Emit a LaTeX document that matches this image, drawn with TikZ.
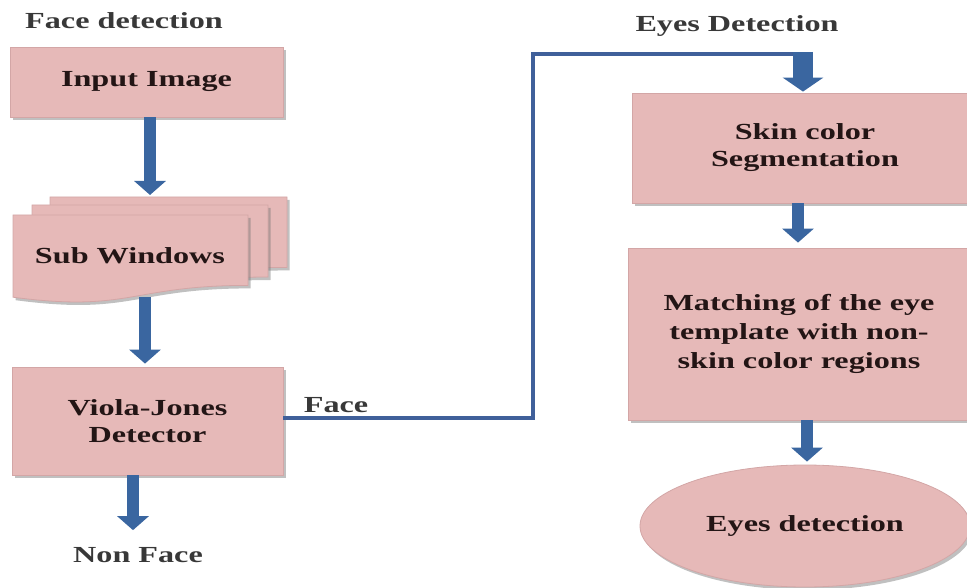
\documentclass[tikz,border=0pt]{standalone}
\usepackage{fontspec}
\setmainfont{Liberation Serif}[FakeStretch=1.4]
\usetikzlibrary{arrows.meta,shadows,shapes.geometric,calc}
\definecolor{boxfill}{HTML}{E6B9B8}
\definecolor{boxedge}{HTML}{D3A6A6}
\definecolor{arrowblue}{HTML}{3A66A0}
\definecolor{lineblue}{HTML}{40609A}
\definecolor{txt}{HTML}{231515}
\begin{document}
\begin{tikzpicture}[x=1pt,y=-1pt,
  font=\fontsize{23}{27}\selectfont\bfseries,
  shade/.style={drop shadow={shadow xshift=2.5pt,shadow yshift=-3pt,fill=black!55,opacity=0.45}},
  boxnode/.style={draw=boxedge,line width=0.8pt,fill=boxfill,text=txt,align=center,inner sep=0pt,shade},
  docshape/.style={draw=boxedge,line width=0.8pt,fill=boxfill,shade},
  title/.style={text=black!78,inner sep=0pt},
  bigarrow/.style={draw=arrowblue,line width=12pt,-{Triangle[width=31pt,length=14pt]}},
  widearrow/.style={draw=arrowblue,line width=20pt,-{Triangle[width=40pt,length=14pt]}},
  faceline/.style={draw=lineblue,line width=4pt}
]
\useasboundingbox (0,0) rectangle (967,588);
\clip (0,0) rectangle (967,588);

% titles
\node[title] (t1) at (124,21) {Face detection};
\node[title] (t2) at (737,26) {Eyes Detection};

% left column
\node[boxnode,minimum width=273pt,minimum height=70pt] (inp) at (146.5,82) {Input Image};

% stacked documents (Sub Windows)
\path[docshape] (50,197) -- (287,197) -- (287,267.4)
  .. controls (168.5,267.4) and (168.5,294.7) .. (50,279.2) -- cycle;
\path[docshape] (32,205) -- (268,205) -- (268,277)
  .. controls (150,277) and (150,304.7) .. (32,289) -- cycle;
\path[docshape] (13,215) -- (248,215) -- (248,285.4)
  .. controls (130.5,285.4) and (130.5,312.7) .. (13,297.2) -- cycle;
\node[text=txt,inner sep=0pt] (sub) at (130,256) {Sub Windows};
\coordinate (subtop) at (150,195);
\coordinate (subbot) at (145,297);

\node[boxnode,minimum width=271pt,minimum height=108pt] (vj) at (147.5,421) {Viola-Jones\\Detector};
\node[title] (nonface) at (138,555) {Non Face};
\node[title] (facelbl) at (336,405) {Face};

% right column
\node[boxnode,minimum width=346pt,minimum height=110pt] (skin) at (805,148) {Skin color\\Segmentation};
\node[boxnode,minimum width=342pt,minimum height=172pt,font=\fontsize{23}{29}\selectfont\bfseries] (match) at (799,334)
  {Matching of the eye\\template with non-\\skin color regions};
\node[boxnode,ellipse,minimum width=330pt,minimum height=122pt] (eyes) at (805,526) {Eyes detection};

% arrows
\draw[bigarrow] ($(inp.south)+(3.5,0)$) -- (subtop);
\draw[bigarrow] (subbot) -- ($(vj.north)+(-2.5,-3)$);
\draw[bigarrow] ($(vj.south)+(-14.5,0)$) -- ($(nonface.north)+(-5,-17)$);
\coordinate (c1) at (533,418);
\coordinate (c2) at (533,54);
\coordinate (c3) at (804,54);
\draw[faceline] ($(vj.east)+(0,-3)$) -- (c1) -- (c2) -- (c3);
\draw[widearrow] ($(c3)+(-1,-2)$) -- ($(skin.north)+(-2,-1)$);
\draw[bigarrow] ($(skin.south)+(-7,0)$) -- ($(match.north)+(-1,-5)$);
\draw[bigarrow] ($(match.south)+(8,0)$) -- ($(eyes.north)+(2,-3)$);
\end{tikzpicture}
\end{document}
